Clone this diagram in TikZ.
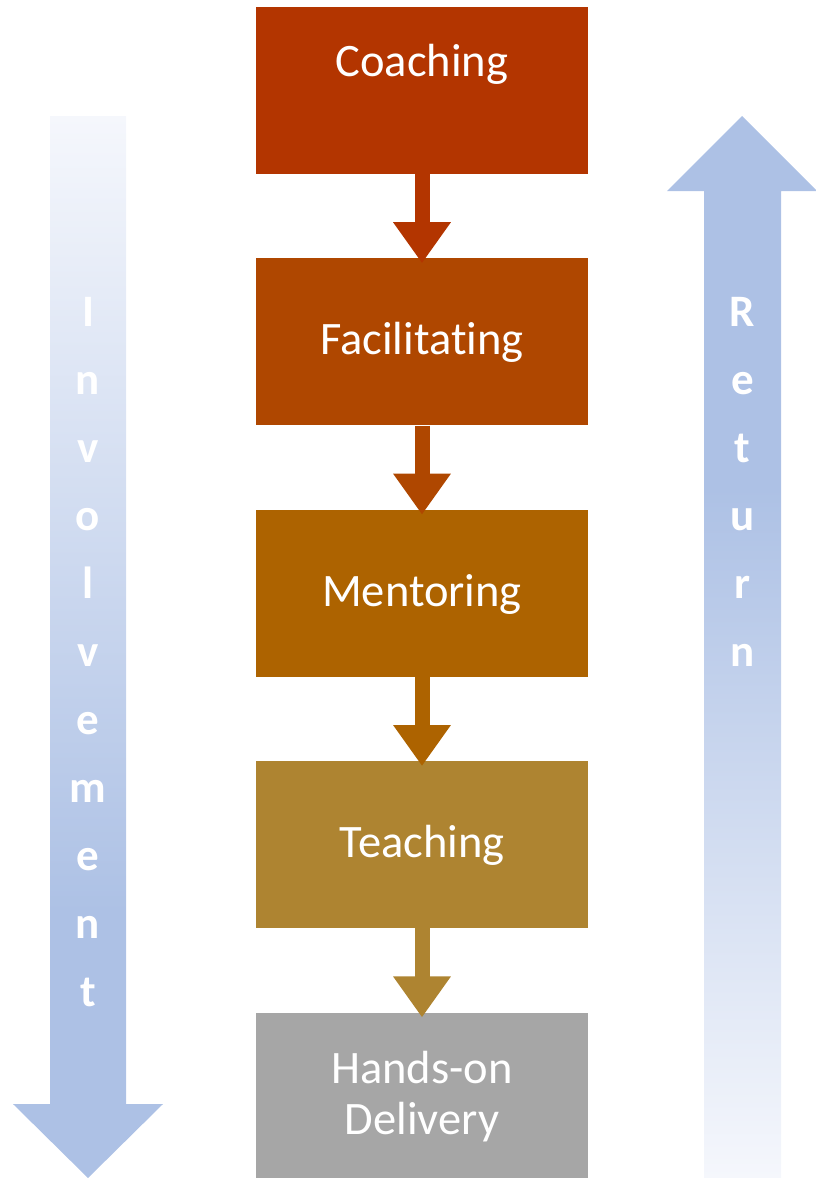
\documentclass[tikz,border=0pt]{standalone}
\usepackage{fontspec}
\setmainfont{Carlito}[Ligatures=NoCommon]
\usepackage{xcolor}
\usepackage{tikz}
\definecolor{coach}{RGB}{179,53,0}
\definecolor{facil}{RGB}{175,71,0}
\definecolor{mentor}{RGB}{173,99,0}
\definecolor{teach}{RGB}{174,132,49}
\definecolor{handson}{RGB}{166,166,166}
\definecolor{arrowblue}{RGB}{173,193,229}
\definecolor{fadeblue}{RGB}{245,247,252}
\usetikzlibrary{positioning,arrows.meta}
\pgfdeclareverticalshading{involvefade}{100bp}{color(0bp)=(arrowblue); color(37.5bp)=(arrowblue); color(75bp)=(fadeblue); color(100bp)=(fadeblue)}
\pgfdeclareverticalshading{returnfade}{100bp}{color(0bp)=(fadeblue); color(25bp)=(fadeblue); color(57.5bp)=(arrowblue); color(100bp)=(arrowblue)}

\begin{document}
\begin{tikzpicture}[x=1pt, y=-1pt,
    stage/.style={minimum width=332pt, minimum height=167pt, inner sep=0pt, text=white,
        font=\fontsize{46.5}{51.6}\selectfont, align=center, text height=35pt, text depth=9.3pt},
    flow/.style={-{Triangle[width=55pt,length=41pt]}, line width=15pt, shorten >=-5pt},
    letter/.style={text=white, font=\fontsize{45}{45}\selectfont\bfseries, anchor=base, inner sep=0pt}]
    \useasboundingbox (0,0) rectangle (815,1178);

    % Involvement arrow (fades in towards the bottom)
    \shade[shading=involvefade] (50,116) -- (126,116) -- (126,1104) -- (163,1104)
        -- (88,1178) -- (13,1104) -- (50,1104) -- cycle;
    \foreach \ch [count=\i from 0] in {I,n,v,o,l,v,e,m,e,n,t} {
        \node[letter] (inv-\i) at (88,326+68*\i) {\ch};
    }

    % Return arrow (fades out towards the bottom)
    \shade[shading=returnfade] (742,116) -- (817,191) -- (781,191) -- (781,1178)
        -- (704,1178) -- (704,191) -- (667,191) -- cycle;
    \foreach \ch [count=\i from 0] in {R,e,t,u,r,n} {
        \node[letter] (ret-\i) at (742.5,326+68*\i) {\ch};
    }

    % Stage boxes
    \node[stage, fill=coach, text depth=64pt] (coaching) at (422,90.5) {Coaching};
    \node[stage, fill=facil, below=84pt of coaching] (facilitating) {Facilitating};
    \node[stage, fill=mentor, below=84pt of facilitating] (mentoring) {Mentoring};
    \node[stage, fill=teach, below=84pt of mentoring] (teaching) {Teaching};
    \node[stage, fill=handson, text height=86.3pt, below=84pt of teaching] (handson) {Hands-on\\Delivery};

    % Flow arrows between stages
    \draw[flow, coach] (coaching.south) -- (facilitating.north);
    \draw[flow, facil] (facilitating.south) -- (mentoring.north);
    \draw[flow, mentor] (mentoring.south) -- (teaching.north);
    \draw[flow, teach] (teaching.south) -- (handson.north);
\end{tikzpicture}
\end{document}
